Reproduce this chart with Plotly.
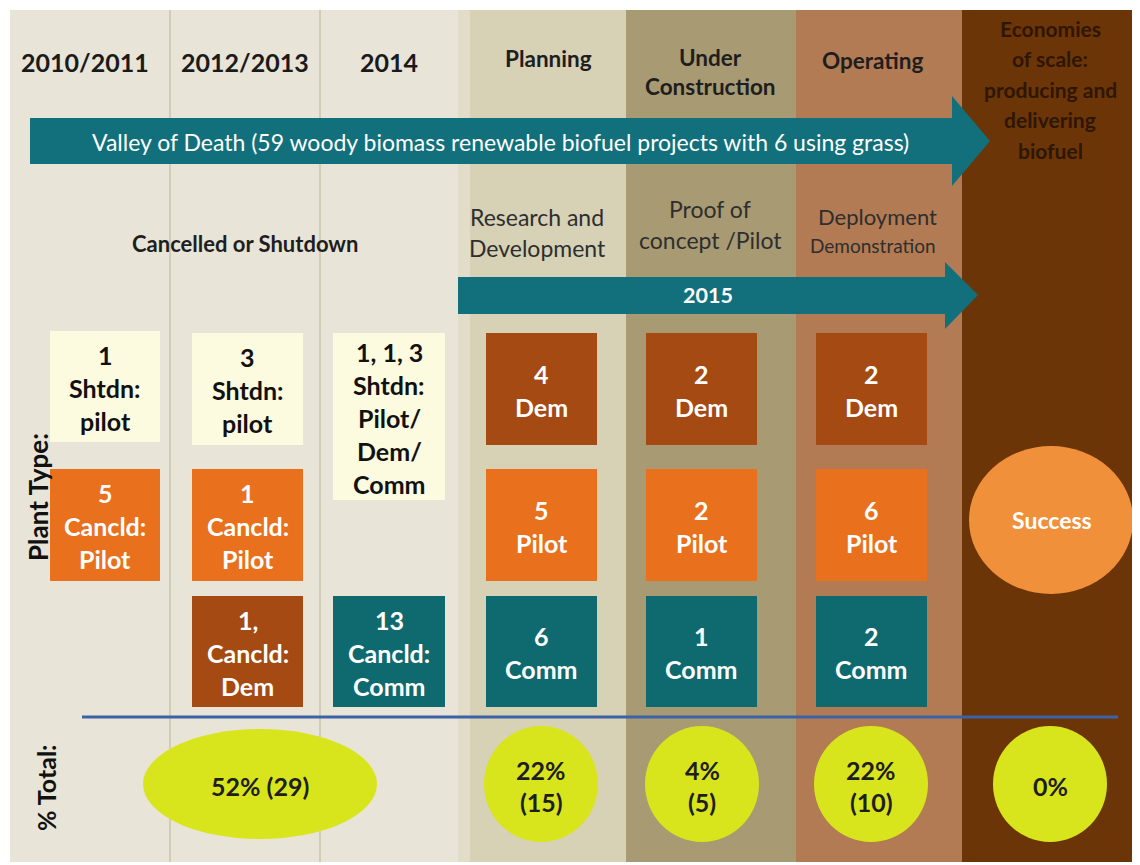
import plotly.graph_objects as go

# ---------------- data ----------------
period_labels = ["2010/2011", "2012/2013", "2014", "Planning",
                 "Under<br>Construction", "Operating",
                 "Economies<br>of scale:<br>producing and<br>delivering<br>biofuel"]
stage_labels = ["Research and<br>Development", "Proof of<br>concept /Pilot", "Deployment<br>Demonstration"]
arrow_main_text = "Valley of Death (59 woody biomass renewable biofuel projects with 6 using grass)"
arrow_2015_text = "2015"
cancel_text = "Cancelled or Shutdown"

# plant-type boxes: column index, row index, label, kind
box_cols = [0, 1, 2, 0, 1, 1, 2, 3, 3, 3, 4, 4, 4, 5, 5, 5]
box_rows = [0, 0, 0, 1, 1, 2, 2, 0, 1, 2, 0, 1, 2, 0, 1, 2]
box_texts = ["1<br>Shtdn:<br>pilot", "3<br>Shtdn:<br>pilot", "1, 1, 3<br>Shtdn:<br>Pilot/<br>Dem/<br>Comm",
             "5<br>Cancld:<br>Pilot", "1<br>Cancld:<br>Pilot", "1,<br>Cancld:<br>Dem", "13<br>Cancld:<br>Comm",
             "4<br>Dem", "5<br>Pilot", "6<br>Comm",
             "2<br>Dem", "2<br>Pilot", "1<br>Comm",
             "2<br>Dem", "6<br>Pilot", "2<br>Comm"]
box_kinds = ["shtdn", "shtdn", "shtdn", "pilot", "pilot", "dem", "comm",
             "dem", "pilot", "comm", "dem", "pilot", "comm", "dem", "pilot", "comm"]

success_text = "Success"
pct_labels = ["52% (29)", "22%<br>(15)", "4%<br>(5)", "22%<br>(10)", "0%"]
pct_cols = [1.5, 3, 4, 5, 6]

# ---------------- styling / layout constants ----------------
W, H = 1140, 865
OFF = 8  # page body margin
col_edges = [10, 170, 320, 458, 626, 796, 962, 1140]
col_centers = [85, 245, 389, 541, 702, 871, 1050]
col_bg = ["#e8e4d7", "#e8e4d7", "#e8e4d7", "#d7d1b6", "#a89a73", "#b27b53", "#6c3507"]
box_x = {0: (50, 160), 1: (192, 303), 2: (333, 445), 3: (486, 597), 4: (646, 757), 5: (816, 927)}
row_y = {0: (333, 445), 1: (469, 581), 2: (596, 707)}
kind_fill = {"shtdn": "#fcfadf", "pilot": "#e9701d", "dem": "#a54a12", "comm": "#0f6a6f"}
kind_font = {"shtdn": "#111111", "pilot": "white", "dem": "white", "comm": "white"}
teal = "#11707b"
FONT = "Lato"

shapes = []
annotations = []


def add_lines(x, y_center, text, size, color, spacing, bold=True, family=FONT):
    lines = text.split("<br>")
    n = len(lines)
    for i, ln in enumerate(lines):
        y = y_center + (i - (n - 1) / 2) * spacing
        t = f"<b>{ln}</b>" if bold else ln
        annotations.append(dict(x=x, y=y, xref="x", yref="y", text=t, showarrow=False,
                                font=dict(family=family, size=size, color=color),
                                xanchor="center", yanchor="middle"))


# column backgrounds
for i in range(7):
    shapes.append(dict(type="rect", x0=col_edges[i], x1=col_edges[i + 1], y0=10, y1=862,
                       fillcolor=col_bg[i], line=dict(width=0), layer="below"))
# faint dividers in first columns
for xe in [170, 320]:
    shapes.append(dict(type="line", x0=xe, x1=xe, y0=10, y1=862,
                       line=dict(color="#d2ccb6", width=2), layer="below"))
# light edge strip at start of planning
shapes.append(dict(type="rect", x0=458, x1=470, y0=10, y1=862, fillcolor="#e2ddc8",
                   line=dict(width=0), layer="below"))

# main arrow
shapes.append(dict(type="path",
                   path="M 30 118 L 952 118 L 952 96 L 990 141 L 952 186 L 952 164 L 30 164 Z",
                   fillcolor=teal, line=dict(width=0)))
# 2015 arrow
shapes.append(dict(type="path",
                   path="M 458 277 L 945 277 L 945 262 L 978 295 L 945 329 L 945 314 L 458 314 Z",
                   fillcolor=teal, line=dict(width=0)))

# boxes
for c, r, txt, k in zip(box_cols, box_rows, box_texts, box_kinds):
    x0, x1 = box_x[c]
    y0, y1 = row_y[r]
    if c == 2 and r == 0:
        y1 = 500
    if c == 0 and r == 0:
        y0, y1 = 331, 442
    shapes.append(dict(type="rect", x0=x0, x1=x1, y0=y0, y1=y1,
                       fillcolor=kind_fill[k], line=dict(width=0)))
    add_lines((x0 + x1) / 2, (y0 + y1) / 2 + 1, txt, 25, kind_font[k], 33)

# success circle
shapes.append(dict(type="circle", x0=969, x1=1133, y0=446, y1=594,
                   fillcolor="#f0903a", line=dict(width=0)))
add_lines(1052, 520, success_text, 23, "white", 33)

# separator line
shapes.append(dict(type="line", x0=82, x1=1118, y0=717, y1=717,
                   line=dict(color="#3b62a6", width=3)))

# percent ellipses
for pc, lab in zip(pct_cols, pct_labels):
    if pc == 1.5:
        cx, rx, ry = 260, 117, 55
    else:
        cx, rx, ry = col_centers[int(pc)], 57, 58
    shapes.append(dict(type="circle", x0=cx - rx, x1=cx + rx, y0=784 - ry, y1=784 + ry,
                       fillcolor="#d9e51c", line=dict(width=0)))
    add_lines(cx, 786, lab, 25, "#1e1e1e", 32)

# headers
add_lines(col_centers[0], 62, period_labels[0], 25, "#1a1a1a", 30)
add_lines(col_centers[1], 62, period_labels[1], 25, "#1a1a1a", 30)
add_lines(col_centers[2], 62, period_labels[2], 25, "#1a1a1a", 30)
add_lines(548, 58, period_labels[3], 22.5, "#1e1e1e", 29)
add_lines(710, 72, period_labels[4], 22.5, "#1e1e1e", 29)
add_lines(872, 60, period_labels[5], 22.5, "#1e1e1e", 29)
add_lines(1050, 89, period_labels[6], 21, "#2e1604", 30.5)

add_lines(500, 142, arrow_main_text, 23, "white", 30, bold=False)
add_lines(708, 295, arrow_2015_text, 21.5, "white", 30)
add_lines(245, 243, cancel_text, 22, "#1e1e1e", 30)

# stage labels
add_lines(537, 232, stage_labels[0], 23, "#2e2e2e", 31, bold=False)
add_lines(710, 224, stage_labels[1], 23, "#2e2e2e", 31, bold=False)
annotations.append(dict(x=877, y=216, xref="x", yref="y", text="Deployment", showarrow=False,
                        font=dict(family=FONT, size=22, color="#2e2e2e"), xanchor="center", yanchor="middle"))
annotations.append(dict(x=873, y=245, xref="x", yref="y", text="Demonstration", showarrow=False,
                        font=dict(family=FONT, size=19, color="#2e2e2e"), xanchor="center", yanchor="middle"))

# rotated side labels
annotations.append(dict(x=38, y=497, xref="x", yref="y", text="<b>Plant Type:</b>", showarrow=False,
                        textangle=-90, font=dict(family=FONT, size=26, color="#111111"),
                        xanchor="center", yanchor="middle"))
annotations.append(dict(x=46, y=788, xref="x", yref="y", text="<b>% Total:</b>", showarrow=False,
                        textangle=-90, font=dict(family=FONT, size=25, color="#111111"),
                        xanchor="center", yanchor="middle"))

fig = go.Figure()
fig.add_trace(go.Scatter(x=[OFF, W], y=[OFF, H], mode="markers", marker=dict(opacity=0),
                         hoverinfo="skip", showlegend=False))
fig.update_layout(
    width=W - OFF, height=H - OFF, margin=dict(l=0, r=0, t=0, b=0),
    paper_bgcolor="white", plot_bgcolor="white",
    xaxis=dict(range=[OFF, W], visible=False, fixedrange=True),
    yaxis=dict(range=[H, OFF], visible=False, fixedrange=True),
    shapes=shapes, annotations=annotations, showlegend=False,
)
fig.write_html("out.html")
